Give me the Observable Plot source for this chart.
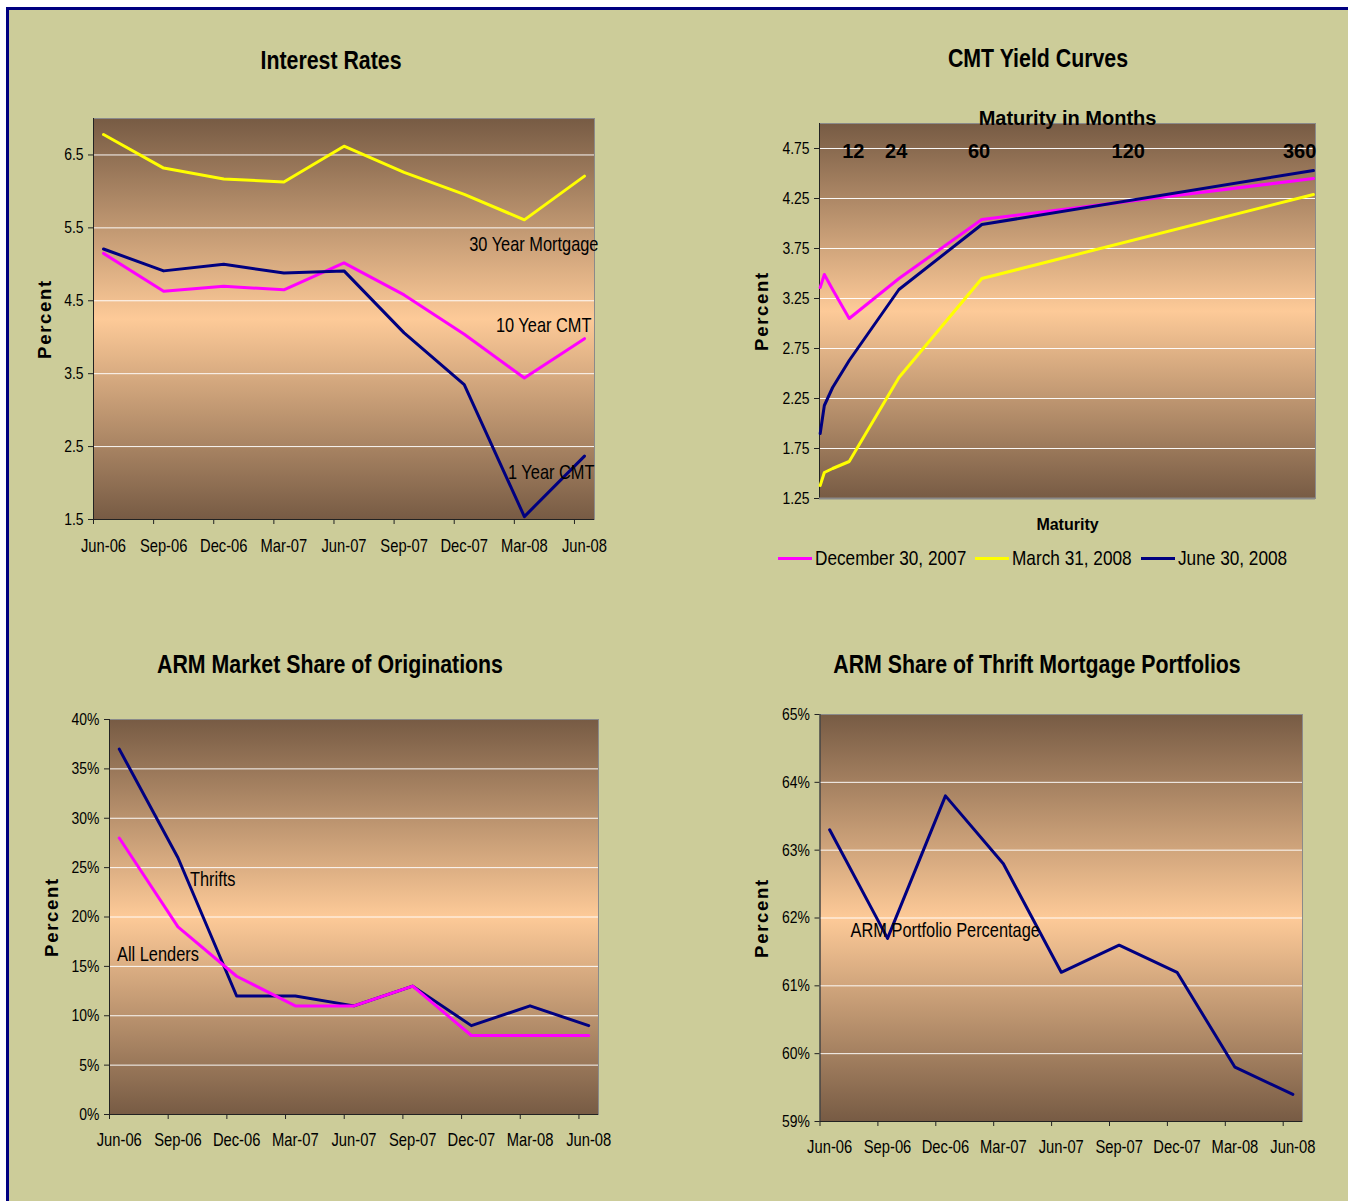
<!DOCTYPE html>
<html><head><meta charset="utf-8">
<script src="https://cdn.jsdelivr.net/npm/d3@7"></script>
<script src="https://cdn.jsdelivr.net/npm/@observablehq/plot@0.6"></script>
<style>
html,body{margin:0;padding:0;background:#fff;width:1348px;height:1201px;overflow:hidden;}
#page{position:absolute;left:6px;top:7px;width:1339px;height:1191px;background:#CCCC99;border-left:3px solid #000080;border-top:3px solid #000080;}
.panel{position:absolute;}
.title{position:absolute;font-family:"Liberation Sans",Arial,sans-serif;font-weight:bold;font-size:26px;transform:translate(-50%,-50%) scaleX(0.82);white-space:nowrap;color:#000;line-height:1;}
#legend{position:absolute;left:778px;top:545px;height:26px;display:flex;align-items:center;font-family:"Liberation Sans",Arial,sans-serif;font-size:21px;color:#000;white-space:nowrap;}
#legend .sw{display:inline-block;width:34px;height:3px;margin-right:3px;flex:none;}
#legend .it{display:flex;align-items:center;margin-right:9px;}
#legend .tw{display:inline-block;overflow:visible;}
#legend .tx{display:inline-block;transform:scaleX(0.82);transform-origin:0 50%;}
</style>
</head><body>
<div id="page"></div>
<div class="title" style="left:331px;top:60px">Interest Rates</div>
<div class="title" style="left:1038px;top:58px">CMT Yield Curves</div>
<div class="title" style="left:330px;top:664px">ARM Market Share of Originations</div>
<div class="title" style="left:1037px;top:664px">ARM Share of Thrift Mortgage Portfolios</div>
<div class="panel" id="p1" style="left:0px;top:100px"></div>
<div class="panel" id="p2" style="left:680px;top:100px"></div>
<div class="panel" id="p3" style="left:0px;top:700px"></div>
<div class="panel" id="p4" style="left:680px;top:700px"></div>
<div id="legend"></div>
<script>
// ---------- data ----------
const quarters = ["Jun-06","Sep-06","Dec-06","Mar-07","Jun-07","Sep-07","Dec-07","Mar-08","Jun-08"];
const mortgage30 = [6.78,6.32,6.17,6.13,6.62,6.26,5.96,5.61,6.21];
const cmt10 = [5.15,4.63,4.70,4.65,5.02,4.58,4.04,3.44,3.98];
const cmt1 = [5.21,4.91,5.00,4.88,4.91,4.06,3.35,1.54,2.37];
const rateNames = ["30 Year Mortgage","10 Year CMT","1 Year CMT"];

const maturities = [3,6,12,24,60,120,360];
const curveDec07 = [3.36,3.49,3.34,3.05,3.45,4.04,4.45];
const curveMar08 = [1.38,1.51,1.55,1.62,2.46,3.45,4.29];
const curveJun08 = [1.90,2.18,2.36,2.63,3.34,3.99,4.53];
const curveNames = ["December 30, 2007","March 31, 2008","June 30, 2008"];
const maturityLabels = ["12","24","60","120","360"];
const maturityLabelAt = [27,58,118,226,350];

const armThrifts = [0.37,0.26,0.12,0.12,0.11,0.13,0.09,0.11,0.09];
const armAllLenders = [0.28,0.19,0.14,0.11,0.11,0.13,0.08,0.08,0.08];
const armNames = ["Thrifts","All Lenders"];

const armPortfolio = [0.633,0.617,0.638,0.628,0.612,0.616,0.612,0.598,0.594];
const portfolioName = "ARM Portfolio Percentage";

// ---------- styles ----------
const NAVY = "#000080", MAGENTA = "#FF00FF", YELLOW = "#FFFF00";
const NARROW = "'NarrowMark','Liberation Sans',Arial,sans-serif";   // condensed after render
const SPACED = "'SpacedMark','Liberation Sans',Arial,sans-serif";   // letter-spaced after render
const REG = "'Liberation Sans',Arial,sans-serif";

const qx = i => i * 3 + 0.5;          // quarter i sits mid-month on a month index axis
const monthTicks = d3.range(0, 25, 3);

function finish(svg, id) {
  const ns = "http://www.w3.org/2000/svg";
  const defs = document.createElementNS(ns, "defs");
  defs.innerHTML = `<linearGradient id="${id}" x1="0" y1="0" x2="0" y2="1">
    <stop offset="0" stop-color="#775b44"/><stop offset="0.5" stop-color="#fdca98"/><stop offset="1" stop-color="#775b44"/></linearGradient>`;
  svg.insertBefore(defs, svg.firstChild);
  svg.querySelectorAll('g[font-family*="NarrowMark"] text').forEach(t => {
    const ax = +(t.getAttribute("x") || 0);
    const tr = t.getAttribute("transform") || "";
    t.setAttribute("transform", `${tr} translate(${ax},0) scale(0.82,1) translate(${-ax},0)`);
  });
  svg.querySelectorAll('g[font-family*="SpacedMark"] text').forEach(t => {
    t.setAttribute("letter-spacing", "1.7");
  });
  return svg;
}

function commonMarks(gid, yDomain, yTicks, yFormat, xMin, pctDx) {
  return [
    Plot.frame({fill: `url(#${gid})`, stroke: "#8a8a8a"}),
    Plot.gridY({ticks: yTicks.filter(t => t !== yDomain[0] && t !== yDomain[1]), stroke: "#ffffff", strokeOpacity: 0.95}),
    Plot.ruleX([xMin], {stroke: "#222"}),
    Plot.axisY({ticks: yTicks, tickSize: 5, tickPadding: 5, tickFormat: yFormat, stroke: "#222",
      fontFamily: NARROW, fontSize: 17, fill: "#000", label: null}),
    Plot.text(["Percent"], {frameAnchor: "left", textAnchor: "middle", lineAnchor: "middle", dx: pctDx, rotate: -90,
      fontFamily: SPACED, fontWeight: "bold", fontSize: 18.5, fill: "#000"})
  ];
}

function timeAxisMarks(pad) {
  return [
    Plot.axisX({ticks: monthTicks, tickSize: 5, tickFormat: () => "", stroke: "#222", label: null}),
    Plot.axisX({ticks: quarters.map((q, i) => qx(i)), tickSize: 0, tickPadding: pad,
      tickFormat: d => quarters[Math.round((d - 0.5) / 3)], fontFamily: NARROW, fontSize: 18, fill: "#000", label: null})
  ];
}

function seriesRows(values, name) {
  return values.map((v, i) => ({x: qx(i), y: v, name}));
}
const lbl = {fontFamily: NARROW, fontSize: 20, fill: "#000", lineAnchor: "middle"};
const baseStyle = {background: "transparent", color: "#000", overflow: "visible"};

// ---------- Panel 1: Interest Rates ----------
{
  const rows30 = seriesRows(mortgage30, rateNames[0]);
  const rows10 = seriesRows(cmt10, rateNames[1]);
  const rows1 = seriesRows(cmt1, rateNames[2]);
  const yTicks = [1.5,2.5,3.5,4.5,5.5,6.5];
  const svg = Plot.plot({
    width: 680, height: 480, marginLeft: 93, marginRight: 86, marginTop: 18, marginBottom: 61,
    x: {type: "linear", domain: [0, 25]},
    y: {type: "linear", domain: [1.5, 7.0]},
    style: baseStyle,
    marks: [
      ...commonMarks("g1", [1.5, 7.0], yTicks, d => d.toFixed(1), 0, -48),
      Plot.ruleY([1.5], {stroke: "#222"}),
      ...timeAxisMarks(20),
      Plot.line(rows30, {x: "x", y: "y", stroke: YELLOW, strokeWidth: 3}),
      Plot.line(rows10, {x: "x", y: "y", stroke: MAGENTA, strokeWidth: 3}),
      Plot.line(rows1, {x: "x", y: "y", stroke: NAVY, strokeWidth: 3}),
      Plot.text([rows30.at(-1)], {x: "x", y: "y", text: "name", textAnchor: "end", dx: 14, dy: 68, ...lbl}),
      Plot.text([rows10.at(-1)], {x: "x", y: "y", text: "name", textAnchor: "end", dx: 7, dy: -13, ...lbl}),
      Plot.text([rows1.at(-1)], {x: "x", y: "y", text: "name", textAnchor: "end", dx: 10, dy: 17, ...lbl})
    ]
  });
  document.getElementById("p1").appendChild(finish(svg, "g1"));
}

// ---------- Panel 2: CMT Yield Curves ----------
{
  const curves = [curveDec07, curveMar08, curveJun08];
  const colors = [MAGENTA, YELLOW, NAVY];
  const rows = curves.flatMap((c, k) => c.map((v, i) => ({m: maturities[i], y: v, name: curveNames[k]})));
  const yTicks = [1.25,1.75,2.25,2.75,3.25,3.75,4.25,4.75];
  const svg = Plot.plot({
    width: 668, height: 480, marginLeft: 139, marginRight: 33, marginTop: 23, marginBottom: 82,
    x: {type: "linear", domain: [2.5, 361.5], axis: null},
    y: {type: "linear", domain: [1.25, 5.0]},
    color: {domain: curveNames, range: colors},
    style: baseStyle,
    marks: [
      ...commonMarks("g2", [1.25, 5.0], yTicks, d => d.toFixed(2), 2.5, -57),
      Plot.ruleY([1.25], {stroke: "#8a8a8a", strokeWidth: 2}),
      Plot.line(rows, {x: "m", y: "y", z: "name", stroke: "name", strokeWidth: 3}),
      Plot.text(maturityLabels, {x: (d, i) => maturityLabelAt[i], frameAnchor: "top", lineAnchor: "middle", dy: 28, text: d => d,
        fontFamily: REG, fontWeight: "bold", fontSize: 20, fill: "#000"}),
      Plot.text(["Maturity in Months"], {frameAnchor: "top", lineAnchor: "middle", dy: -5, fontFamily: REG, fontWeight: "bold", fontSize: 20, fill: "#000"}),
      Plot.text(["Maturity"], {frameAnchor: "bottom", lineAnchor: "middle", dy: 26, fontFamily: REG, fontWeight: "bold", fontSize: 16, fill: "#000"})
    ]
  });
  document.getElementById("p2").appendChild(finish(svg, "g2"));
  const lg = document.getElementById("legend");
  curveNames.forEach((n, k) => {
    const it = document.createElement("span"); it.className = "it";
    it.innerHTML = `<span class="sw" style="background:${colors[k]}"></span><span class="tw"><span class="tx">${n}</span></span>`;
    lg.appendChild(it);
    const tx = it.querySelector(".tx");
    it.querySelector(".tw").style.width = (tx.getBoundingClientRect().width) + "px";
  });
}

// ---------- Panel 3: ARM Market Share of Originations ----------
{
  const rowsT = seriesRows(armThrifts, armNames[0]);
  const rowsA = seriesRows(armAllLenders, armNames[1]);
  const yTicks = d3.range(0, 0.4001, 0.05);
  const svg = Plot.plot({
    width: 680, height: 480, marginLeft: 109, marginRight: 82, marginTop: 19, marginBottom: 66,
    x: {type: "linear", domain: [0, 25]},
    y: {type: "linear", domain: [0, 0.40]},
    style: baseStyle,
    marks: [
      ...commonMarks("g3", [0, 0.40], yTicks, d => Math.round(d * 100) + "%", 0, -57),
      Plot.ruleY([0], {stroke: "#222"}),
      ...timeAxisMarks(19),
      Plot.line(rowsT, {x: "x", y: "y", stroke: NAVY, strokeWidth: 3}),
      Plot.line(rowsA, {x: "x", y: "y", stroke: MAGENTA, strokeWidth: 3}),
      Plot.text([rowsT[1]], {x: "x", y: "y", text: "name", textAnchor: "start", dx: 12, dy: 22, ...lbl}),
      Plot.text([rowsA[1]], {x: "x", y: "y", text: "name", textAnchor: "end", dx: 21, dy: 28, ...lbl})
    ]
  });
  document.getElementById("p3").appendChild(finish(svg, "g3"));
}

// ---------- Panel 4: ARM Share of Thrift Mortgage Portfolios ----------
{
  const rowsP = seriesRows(armPortfolio, portfolioName);
  const yTicks = [0.59,0.60,0.61,0.62,0.63,0.64,0.65];
  const svg = Plot.plot({
    width: 668, height: 480, marginLeft: 139.5, marginRight: 46, marginTop: 14, marginBottom: 59,
    x: {type: "linear", domain: [0, 25]},
    y: {type: "linear", domain: [0.59, 0.65]},
    style: baseStyle,
    marks: [
      ...commonMarks("g4", [0.59, 0.65], yTicks, d => Math.round(d * 100) + "%", 0, -57.5),
      Plot.ruleY([0.59], {stroke: "#222"}),
      ...timeAxisMarks(19),
      Plot.line(rowsP, {x: "x", y: "y", stroke: NAVY, strokeWidth: 3}),
      Plot.text([rowsP[1]], {x: "x", y: "y", text: "name", textAnchor: "start", dx: -37, dy: -8, ...lbl})
    ]
  });
  document.getElementById("p4").appendChild(finish(svg, "g4"));
}
</script>
</body></html>
